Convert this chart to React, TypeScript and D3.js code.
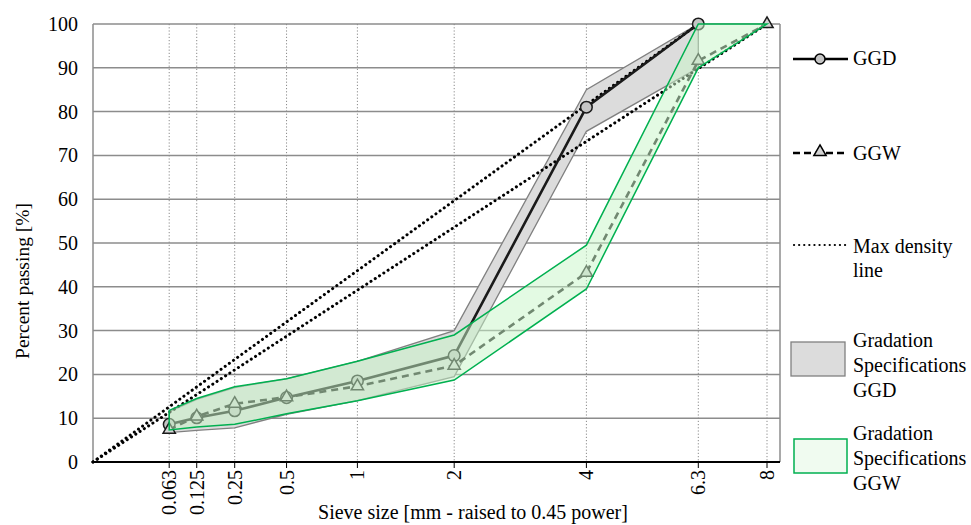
import React, { useEffect, useRef } from "react";
import * as d3 from "d3";

const sieves = [0.063, 0.125, 0.25, 0.5, 1, 2, 4, 6.3, 8];
const sieveLabels = ["0.063", "0.125", "0.25", "0.5", "1", "2", "4", "6.3", "8"];
const ggd = [8.6, 10.1, 11.7, 14.7, 18.5, 24.3, 81, 100, null];
const ggw = [7.4, 10.4, 13.3, 14.8, 17.3, 22, 43.2, 91.6, 100];
const ggdLow = [6.7, 7.2, 7.8, 10.9, 14, 19.5, 75.5, 90, null];
const ggdHigh = [11.5, 14.3, 17, 19, 23, 30, 85, 100, null];
const ggwLow = [7.3, 8, 8.6, 11, 14, 18.7, 39.5, 90, 100];
const ggwHigh = [11.8, 14.5, 17.2, 19, 23, 29, 49.5, 100, 100];
const maxDensityTops = [6.3, 8];
const yTicks = [0, 10, 20, 30, 40, 50, 60, 70, 80, 90, 100];

const W = 971,
  H = 525;
const left = 93,
  right = 780,
  top = 24,
  bottom = 462;
const FONT = "'Liberation Serif', 'Times New Roman', serif";
const FS = 20;

export default function App() {
  const ref = useRef<SVGSVGElement>(null);

  useEffect(() => {
    const svg = d3.select(ref.current);
    svg.selectAll("*").remove();

    const p = (v: number) => Math.pow(v, 0.45);
    const x = d3.scaleLinear().domain([0, p(8)]).range([left, 767]);
    const y = d3.scaleLinear().domain([0, 100]).range([bottom, top]);

    // grid
    const g = svg.append("g");
    g.selectAll(".hg")
      .data(yTicks.filter(t => t > 0))
      .enter()
      .append("line")
      .attr("x1", left)
      .attr("x2", right)
      .attr("y1", d => y(d))
      .attr("y2", d => y(d))
      .attr("stroke", "#8c8c8c")
      .attr("stroke-width", 1.5);
    g.selectAll(".vg")
      .data(sieves)
      .enter()
      .append("line")
      .attr("x1", d => x(p(d)))
      .attr("x2", d => x(p(d)))
      .attr("y1", top)
      .attr("y2", bottom)
      .attr("stroke", "#8a8a8a")
      .attr("stroke-width", 1)
      .attr("stroke-dasharray", "1.2,2");
    g.append("line")
      .attr("x1", left).attr("x2", left).attr("y1", top).attr("y2", bottom)
      .attr("stroke", "#8c8c8c").attr("stroke-width", 1.5);
    g.append("line")
      .attr("x1", right).attr("x2", right).attr("y1", top).attr("y2", bottom)
      .attr("stroke", "#8c8c8c").attr("stroke-width", 1.5);

    const idx = sieves.map((_, i) => i);
    const band = (lo: (number | null)[], hi: (number | null)[]) =>
      d3
        .area<number>()
        .defined(i => lo[i] != null && hi[i] != null)
        .x(i => x(p(sieves[i])))
        .y0(i => y(lo[i] as number))
        .y1(i => y(hi[i] as number))(idx);

    // GGD spec band
    svg.append("path")
      .attr("d", band(ggdLow, ggdHigh))
      .attr("fill", "#dcdcdc")
      .attr("stroke", "#808080")
      .attr("stroke-width", 1.3);

    // max density lines
    maxDensityTops.forEach(dmax => {
      svg.append("line")
        .attr("x1", x(0))
        .attr("y1", y(0))
        .attr("x2", x(p(dmax)))
        .attr("y2", y(100))
        .attr("stroke", "#000")
        .attr("stroke-width", 3)
        .attr("stroke-linecap", "round")
        .attr("stroke-dasharray", "0.1,5");
    });

    const line = (vals: (number | null)[]) =>
      d3
        .line<number>()
        .defined(i => vals[i] != null)
        .x(i => x(p(sieves[i])))
        .y(i => y(vals[i] as number))(idx);

    // GGD
    svg.append("path")
      .attr("d", line(ggd))
      .attr("fill", "none")
      .attr("stroke", "#1a1a1a")
      .attr("stroke-width", 2.6);
    svg.selectAll(".ggdm")
      .data(idx.filter(i => ggd[i] != null))
      .enter()
      .append("circle")
      .attr("cx", i => x(p(sieves[i])))
      .attr("cy", i => y(ggd[i] as number))
      .attr("r", 5.8)
      .attr("fill", "#c4c4c4")
      .attr("stroke", "#1a1a1a")
      .attr("stroke-width", 1.5);

    // GGW
    const tri = d3.symbol().type(d3.symbolTriangle).size(65);
    svg.append("path")
      .attr("d", line(ggw))
      .attr("fill", "none")
      .attr("stroke", "#1a1a1a")
      .attr("stroke-width", 2.6)
      .attr("stroke-dasharray", "7,5");
    svg.selectAll(".ggwm")
      .data(idx)
      .enter()
      .append("path")
      .attr("d", tri() as string)
      .attr("transform", i => `translate(${x(p(sieves[i]))},${y(ggw[i] as number)})`)
      .attr("fill", "#d4d4d4")
      .attr("stroke", "#1a1a1a")
      .attr("stroke-width", 1.5);

    // GGW spec band on top, translucent
    svg.append("path")
      .attr("d", band(ggwLow, ggwHigh))
      .attr("fill", "rgba(200,245,200,0.5)")
      .attr("stroke", "#00b050")
      .attr("stroke-width", 1.5);

    // axes
    svg.append("line")
      .attr("x1", left).attr("x2", right).attr("y1", bottom).attr("y2", bottom)
      .attr("stroke", "#000").attr("stroke-width", 2);
    svg.selectAll(".xt")
      .data(sieves)
      .enter()
      .append("line")
      .attr("x1", d => x(p(d)))
      .attr("x2", d => x(p(d)))
      .attr("y1", bottom)
      .attr("y2", bottom + 6)
      .attr("stroke", "#000")
      .attr("stroke-width", 1);
    svg.selectAll(".xl")
      .data(sieves)
      .enter()
      .append("text")
      .attr("transform", d => `translate(${x(p(d)) + 7},${bottom + 8}) rotate(-90)`)
      .attr("text-anchor", "end")
      .attr("font-family", FONT)
      .attr("font-size", FS)
      .text((d, i) => sieveLabels[i]);
    svg.selectAll(".yl")
      .data(yTicks)
      .enter()
      .append("text")
      .attr("x", 78)
      .attr("y", d => y(d) + 7)
      .attr("text-anchor", "end")
      .attr("font-family", FONT)
      .attr("font-size", FS)
      .text(d => d);
    svg.append("text")
      .attr("transform", "translate(29,281) rotate(-90)")
      .attr("text-anchor", "middle")
      .attr("font-family", FONT)
      .attr("font-size", FS - 0.5)
      .text("Percent passing [%]");
    svg.append("text")
      .attr("x", 473)
      .attr("y", 519)
      .attr("text-anchor", "middle")
      .attr("font-family", FONT)
      .attr("font-size", FS)
      .text("Sieve size [mm - raised to 0.45 power]");

    // legend
    const lg = svg.append("g").attr("font-family", FONT).attr("font-size", FS);
    lg.append("line").attr("x1", 793).attr("x2", 848).attr("y1", 59).attr("y2", 59)
      .attr("stroke", "#000").attr("stroke-width", 2.6);
    lg.append("circle").attr("cx", 820).attr("cy", 59).attr("r", 5)
      .attr("fill", "#c4c4c4").attr("stroke", "#000").attr("stroke-width", 1.5);
    lg.append("text").attr("x", 853).attr("y", 65).text("GGD");

    lg.append("line").attr("x1", 793).attr("x2", 848).attr("y1", 153).attr("y2", 153)
      .attr("stroke", "#000").attr("stroke-width", 2.6).attr("stroke-dasharray", "7,4");
    lg.append("path").attr("d", tri() as string).attr("transform", "translate(820,152)")
      .attr("fill", "#d4d4d4").attr("stroke", "#000").attr("stroke-width", 1.5);
    lg.append("text").attr("x", 853).attr("y", 160).text("GGW");

    lg.append("line").attr("x1", 794).attr("x2", 848).attr("y1", 245).attr("y2", 245)
      .attr("stroke", "#000").attr("stroke-width", 2.2).attr("stroke-linecap", "round")
      .attr("stroke-dasharray", "0.1,5");
    lg.append("text").attr("x", 853).attr("y", 253).text("Max density");
    lg.append("text").attr("x", 853).attr("y", 277).text("line");

    lg.append("rect").attr("x", 791).attr("y", 342).attr("width", 54).attr("height", 34)
      .attr("fill", "#dcdcdc").attr("stroke", "#808080").attr("stroke-width", 1.3);
    ["Gradation", "Specifications", "GGD"].forEach((t, i) =>
      lg.append("text").attr("x", 853).attr("y", 347 + i * 25).text(t)
    );
    lg.append("rect").attr("x", 794).attr("y", 439).attr("width", 53).attr("height", 34)
      .attr("fill", "#f0fbf0").attr("stroke", "#00b050").attr("stroke-width", 1.5);
    ["Gradation", "Specifications", "GGW"].forEach((t, i) =>
      lg.append("text").attr("x", 853).attr("y", 440 + i * 25).text(t)
    );
  }, []);

  return (
    <svg
      ref={ref}
      width={W}
      height={H}
      style={{ display: "block", position: "absolute", left: 0, top: 0, background: "#fff" }}
    />
  );
}
